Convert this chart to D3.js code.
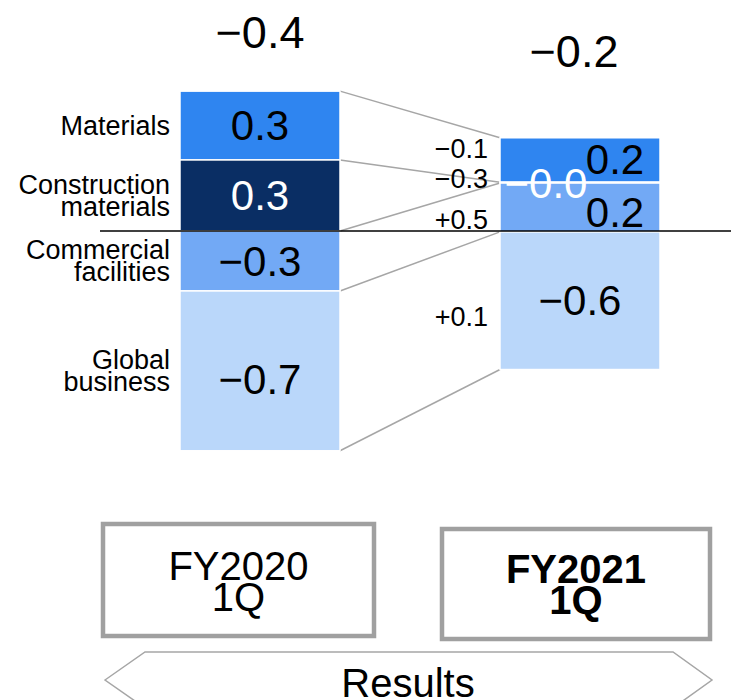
<!DOCTYPE html>
<html>
<head>
<meta charset="utf-8">
<script src="https://cdn.jsdelivr.net/npm/d3@7"></script>
<style>
  html, body { margin: 0; padding: 0; background: #fff; }
  svg { display: block; font-family: "Liberation Sans", Arial, Helvetica, sans-serif; }
</style>
</head>
<body>
<svg id="chart" width="731" height="700"></svg>
<script>
// ---- data ----
const periods = ["FY2020 1Q", "FY2021 1Q"];
const periodLines = [["FY2020", "1Q"], ["FY2021", "1Q"]];
const segments = ["Materials", "Construction materials", "Commercial facilities", "Global business"];
const segmentLines = [["Materials"], ["Construction", "materials"], ["Commercial", "facilities"], ["Global", "business"]];
const fy2020Values = [0.31, 0.32, -0.27, -0.72];
const fy2021Values = [0.20, -0.004, 0.22, -0.62];
const segmentColors = ["#2f85f0", "#0a2e64", "#72a9f5", "#bad7fa"];
const valueLabelColors = ["#000", "#fff", "#000", "#000"];
const footerLabel = "Results";

// ---- helpers ----
const MINUS = "\u2212";
const fmt = v => (v < 0 || Object.is(v, -0) ? MINUS : "") + Math.abs(v).toFixed(1);
const fmtDelta = v => (v < 0 ? MINUS : "+") + Math.abs(v).toFixed(1);

const svg = d3.select("#chart");

const rows = periods.map((p, i) => {
  const vals = [fy2020Values, fy2021Values][i];
  const r = { period: p };
  segments.forEach((s, k) => { r[s] = vals[k]; });
  return r;
});

// Segments are piled from the bottom of the bar; the pile starts at the
// sum of the negative parts so that positives sit above zero.
function offsetFromNegatives(series, order) {
  const m = series[0].length;
  for (let j = 0; j < m; j++) {
    let y = 0;
    for (const s of series) y += Math.min(0, s[j].data[s.key]);
    for (const i of order) {
      const s = series[i];
      const h = Math.abs(s[j].data[s.key]);
      s[j][0] = y;
      s[j][1] = y + h;
      y += h;
    }
  }
}

const stack = d3.stack()
  .keys(segments.slice().reverse())
  .value((d, k) => Math.abs(d[k]))
  .offset(offsetFromNegatives);
const series = stack(rows);
const bySeg = Object.fromEntries(series.map(s => [s.key, s]));

// ---- scales ----
const x = d3.scaleBand().domain(periods).range([100, 740]).paddingInner(0.5).paddingOuter(0.25);
const y = d3.scaleLinear().domain([-1, 1]).range([453, 9]);
const bw = x.bandwidth();

// ---- connector lines between the two bars ----
const linkG = svg.append("g").attr("stroke", "#a6a6a6").attr("stroke-width", 1.5).attr("fill", "none");
const x1 = x(periods[0]) + bw, x2 = x(periods[1]);
const links = segments.map(s => [bySeg[s][0][0], bySeg[s][1][0]]);
links.push([bySeg[segments[0]][0][1], bySeg[segments[0]][1][1]]);
linkG.selectAll("line").data(links).join("line")
  .attr("x1", x1).attr("x2", x2)
  .attr("y1", d => y(d[0])).attr("y2", d => y(d[1]));

// ---- bars ----
const barG = svg.append("g");
segments.forEach((s, k) => {
  barG.selectAll(null).data(bySeg[s]).join("rect")
    .attr("x", d => x(d.data.period))
    .attr("width", bw)
    .attr("y", d => y(d[1]))
    .attr("height", d => Math.max(0, y(d[0]) - y(d[1])))
    .attr("fill", segmentColors[k])
    .attr("stroke", "#fff")
    .attr("stroke-width", 1.5);
});

// ---- zero line ----
svg.append("line")
  .attr("x1", 100).attr("x2", 731)
  .attr("y1", y(0)).attr("y2", y(0))
  .attr("stroke", "#000").attr("stroke-width", 1.3);

// ---- value labels inside the bars ----
const labelNudge = {
  "FY2020 1Q": [[0, 0], [0, 0], [0, 0], [0, 8]],
  "FY2021 1Q": [[35, -1], [-34, 1], [35, 5], [0, 0]]
};
const valG = svg.append("g").attr("font-size", 42).attr("text-anchor", "middle");
segments.forEach((s, k) => {
  valG.selectAll(null).data(bySeg[s]).join("text")
    .attr("x", d => x(d.data.period) + bw / 2 + labelNudge[d.data.period][k][0])
    .attr("y", d => (y(d[0]) + y(d[1])) / 2 + labelNudge[d.data.period][k][1])
    .attr("dy", "0.35em")
    .attr("fill", valueLabelColors[k])
    .text(d => fmt(d.data[s]));
});

// ---- segment names on the left ----
const nameG = svg.append("g").attr("font-size", 27).attr("text-anchor", "end").attr("fill", "#000");
segments.forEach((s, k) => {
  const d = bySeg[s][0];
  const c = (y(d[0]) + y(d[1])) / 2;
  const lines = segmentLines[k];
  const lh = 22;
  const t = nameG.append("text").attr("x", 170).attr("y", c - (lines.length - 1) * lh / 2);
  lines.forEach((ln, i) => {
    t.append("tspan").attr("x", 170).attr("dy", i === 0 ? "0.35em" : lh).text(ln);
  });
});

// ---- change between the periods ----
const deltaNudge = [-11, -4, 12, 16];
const deltaG = svg.append("g").attr("font-size", 27).attr("text-anchor", "end").attr("fill", "#000");
segments.forEach((s, k) => {
  const d = bySeg[s][1];
  const delta = fy2021Values[k] - fy2020Values[k];
  deltaG.append("text")
    .attr("x", 488)
    .attr("y", (y(d[0]) + y(d[1])) / 2 + deltaNudge[k])
    .attr("dy", "0.35em")
    .text(fmtDelta(delta));
});

// ---- totals above the bars ----
const totals = [d3.sum(fy2020Values), d3.sum(fy2021Values)];
const totalGap = [43, 71];
const totalDx = [0, -6];
svg.append("g").attr("font-size", 45).attr("text-anchor", "middle")
  .selectAll("text").data(periods).join("text")
  .attr("x", (p, i) => x(p) + bw / 2 + totalDx[i])
  .attr("y", (p, i) => y(bySeg[segments[0]][i][1]) - totalGap[i])
  .text((p, i) => fmt(totals[i]));

// ---- period boxes ----
const boxes = [
  { x: 103, y: 524, w: 271, h: 112, weight: "normal", base: 580 },
  { x: 442, y: 529, w: 268, h: 110, weight: "bold", base: 583 }
];
const boxG = svg.append("g");
periods.forEach((p, i) => {
  const b = boxes[i];
  boxG.append("rect")
    .attr("x", b.x).attr("y", b.y).attr("width", b.w).attr("height", b.h)
    .attr("fill", "#fff").attr("stroke", "#a0a0a0").attr("stroke-width", 4.5);
  const t = boxG.append("text")
    .attr("text-anchor", "middle").attr("font-size", 40).attr("font-weight", b.weight);
  periodLines[i].forEach((ln, j) => {
    t.append("tspan").attr("x", b.x + b.w / 2).attr("y", b.base + j * 31).text(ln);
  });
});

// ---- results banner ----
const banner = [[105, 680], [145, 652], [673, 652], [712, 680], [673, 708], [145, 708]];
svg.append("path")
  .attr("d", d3.line()(banner) + "Z")
  .attr("fill", "none").attr("stroke", "#a6a6a6").attr("stroke-width", 1.5);
svg.append("text")
  .attr("x", 408).attr("y", 697)
  .attr("text-anchor", "middle").attr("font-size", 40)
  .text(footerLabel);
</script>
</body>
</html>
